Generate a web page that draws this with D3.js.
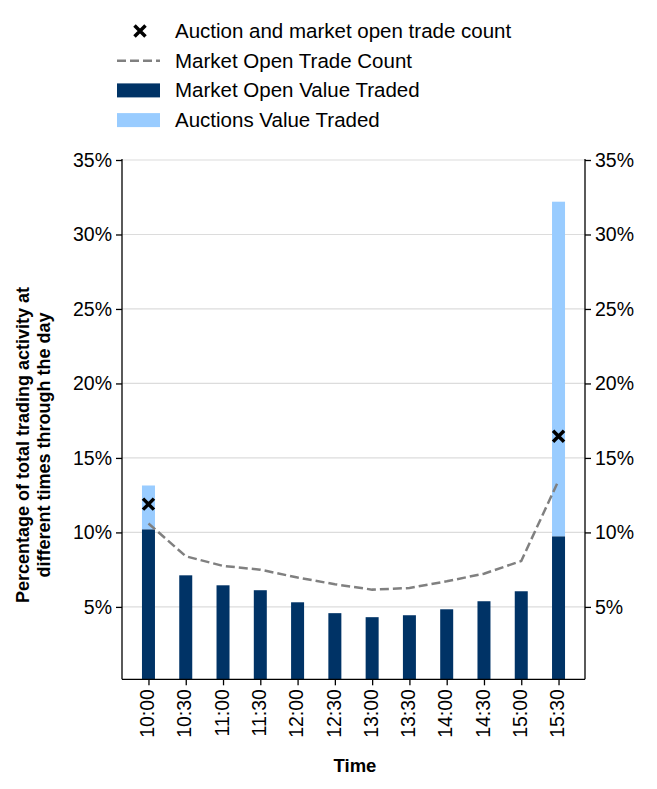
<!DOCTYPE html><html><head><meta charset="utf-8">
<script src="https://cdn.jsdelivr.net/npm/d3@7"></script>
<style>body{margin:0;background:#fff}text{font-family:"Liberation Sans",Arial,sans-serif}</style></head><body>
<svg id="c" width="657" height="789"></svg>
<script>
const times=["10:00","10:30","11:00","11:30","12:00","12:30","13:00","13:30","14:00","14:30","15:00","15:30"];
const marketValue=[10.2,7.12,6.45,6.12,5.31,4.58,4.31,4.44,4.84,5.38,6.05,9.73];
const totalValue=[13.15,7.12,6.45,6.12,5.31,4.58,4.31,4.44,4.84,5.38,6.05,32.2];
const marketCount=[10.6,8.4,7.75,7.5,6.97,6.52,6.16,6.27,6.72,7.23,8.08,13.48];
const auctionCount=[{t:"10:00",v:11.9},{t:"15:30",v:16.45}];
const yTicks=[5,10,15,20,25,30,35];

const svg=d3.select("#c");
const L=122,R=585,T=160,B=679.3;
const x=d3.scalePoint().domain(times).range([L,R]).padding(0.71);
const y=d3.scaleLinear().domain([0.14,35]).range([B,T]);
const bw=13;
svg.append("g").selectAll("line").data(yTicks).join("line")
 .attr("x1",L).attr("x2",R).attr("y1",d=>y(d)).attr("y2",d=>y(d)).attr("stroke","#dcdcdc").attr("stroke-width",1.2);
svg.append("g").selectAll("rect").data(times).join("rect")
 .attr("x",d=>x(d)-bw/2).attr("width",bw).attr("y",(d,i)=>y(totalValue[i])).attr("height",(d,i)=>y(marketValue[i])-y(totalValue[i])).attr("fill","#99ccff");
svg.append("g").selectAll("rect").data(times).join("rect")
 .attr("x",d=>x(d)-bw/2).attr("width",bw).attr("y",(d,i)=>y(marketValue[i])).attr("height",(d,i)=>B-y(marketValue[i])).attr("fill","#003366");
svg.append("path").datum(marketCount).attr("d",d3.line().x((d,i)=>x(times[i])).y(d=>y(d)))
 .attr("fill","none").attr("stroke","#808080").attr("stroke-width",2.5).attr("stroke-dasharray","9,4");
const cross=(g,cx,cy)=>{const s=5.5;g.append("path").attr("d",`M${cx-s},${cy-s}L${cx+s},${cy+s}M${cx-s},${cy+s}L${cx+s},${cy-s}`).attr("stroke","#000").attr("stroke-width",3.5);};
auctionCount.forEach(d=>cross(svg,x(d.t),y(d.v)));
const fmt=d=>d+"%";
const ga=svg.append("g").attr("transform",`translate(${L},0)`).call(d3.axisLeft(y).tickValues(yTicks).tickFormat(fmt).tickSize(6).tickPadding(4));
const gr=svg.append("g").attr("transform",`translate(${R},0)`).call(d3.axisRight(y).tickValues(yTicks).tickFormat(fmt).tickSize(6).tickPadding(4));
const gb=svg.append("g").attr("transform",`translate(0,${B})`).call(d3.axisBottom(x).tickSize(6).tickPadding(4));
[ga,gr,gb].forEach(g=>{g.selectAll("text").attr("font-size",19.5).attr("fill","#000");g.selectAll("line,path").attr("stroke","#000").attr("stroke-width",1.3);});
ga.select(".domain").attr("d",`M0,${B}V${T-1}`);gr.select(".domain").attr("d",`M0,${B}V${T-1}`);
gb.select(".domain").attr("d",`M${L},0H${R}`);
gb.selectAll("text").attr("transform","rotate(-90)").attr("text-anchor","end").attr("dx","-0.5em").attr("dy","0").attr("x",0).attr("y",0).style("dominant-baseline","middle");
svg.append("text").attr("x",355).attr("y",772).attr("text-anchor","middle").attr("font-weight","bold").attr("font-size",18.5).text("Time");
const yl=svg.append("text").attr("transform","translate(0,445) rotate(-90)").attr("text-anchor","middle").attr("font-weight","bold").attr("font-size",18);
yl.append("tspan").attr("x",0).attr("y",29).text("Percentage of total trading activity at");
yl.append("tspan").attr("x",0).attr("y",50).text("different times through the day");
const leg=[["cross","Auction and market open trade count"],["line","Market Open Trade Count"],["#003366","Market Open Value Traded"],["#99ccff","Auctions Value Traded"]];
leg.forEach((d,i)=>{const cy=31+i*29.7;
 if(d[0]==="cross")cross(svg,140,cy);
 else if(d[0]==="line")svg.append("line").attr("x1",117).attr("x2",160).attr("y1",cy).attr("y2",cy).attr("stroke","#808080").attr("stroke-width",2.5).attr("stroke-dasharray","9,4");
 else svg.append("rect").attr("x",117).attr("y",cy-7).attr("width",43).attr("height",14).attr("fill",d[0]);
 svg.append("text").attr("x",175).attr("y",cy+7).attr("font-size",20.5).text(d[1]);});
</script></body></html>
